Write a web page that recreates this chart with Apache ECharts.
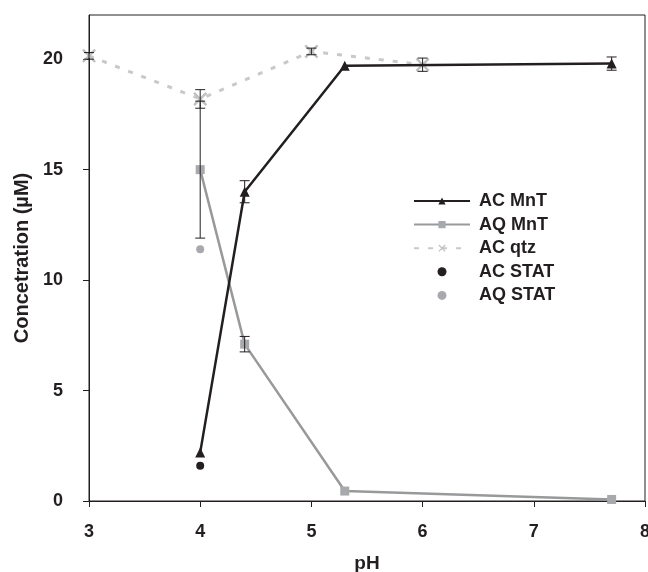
<!DOCTYPE html>
<html>
<head>
<meta charset="utf-8">
<script src="https://cdn.jsdelivr.net/npm/echarts@6/dist/echarts.min.js"></script>
<style>
  html, body { margin: 0; padding: 0; background: #fff; }
  #chart { width: 648px; height: 572px; }
</style>
</head>
<body>
<div id="chart"></div>
<script>
// pH values and concentrations (uM)
var mntPH = [4, 4.4, 5.3, 7.7];
var acMnT = [2.2, 14.0, 19.7, 19.8];
var acMnTErr = [0, 0.5, 0, 0.3];
var aqMnT = [15.0, 7.1, 0.45, 0.07];
var aqMnTErr = [3.1, 0.35, 0, 0];

var qtzPH = [3, 4, 5, 6];
var acQtz = [20.15, 18.2, 20.35, 19.75];
var acQtzErr = [0.15, 0.42, 0.15, 0.3];

var statPH = [4];
var acStat = [1.6];
var aqStat = [11.4];

var xTicks = [3, 4, 5, 6, 7, 8];
var yTicks = [0, 5, 10, 15, 20];

var INK = '#231f20';
var FONT = '"Liberation Sans", Arial, sans-serif';

function pairs(xs, ys) {
  return xs.map(function (x, i) { return [x, ys[i]]; });
}

// rows [x, y, err] for the error bar series, only where there is an error
function errRows(xs, ys, es) {
  var rows = [];
  xs.forEach(function (x, i) {
    if (es[i] > 0) rows.push([x, ys[i], es[i]]);
  });
  return rows;
}

var errData = []
  .concat(errRows(mntPH, acMnT, acMnTErr))
  .concat(errRows(mntPH, aqMnT, aqMnTErr))
  .concat(errRows(qtzPH, acQtz, acQtzErr));

// draws a vertical error bar with caps
function renderErrorBar(params, api) {
  var x = api.value(0);
  var y = api.value(1);
  var e = api.value(2);
  var hi = api.coord([x, y + e]);
  var lo = api.coord([x, y - e]);
  var half = 5;
  var style = { stroke: INK, lineWidth: 1 };
  return {
    type: 'group',
    children: [
      { type: 'line', shape: { x1: hi[0], y1: hi[1], x2: lo[0], y2: lo[1] }, style: style },
      { type: 'line', shape: { x1: hi[0] - half, y1: hi[1], x2: hi[0] + half, y2: hi[1] }, style: style },
      { type: 'line', shape: { x1: lo[0] - half, y1: lo[1], x2: lo[0] + half, y2: lo[1] }, style: style }
    ]
  };
}

// thin "x" marker
var crossSymbol = 'path://M0,1.2 L1.2,0 L10,8.8 L8.8,10 Z M8.8,0 L10,1.2 L1.2,10 L0,8.8 Z';

var chart = echarts.init(document.getElementById('chart'));

var option = {
  animation: false,
  backgroundColor: '#fff',
  textStyle: { fontFamily: FONT },
  grid: {
    left: 89,
    right: 3,
    top: 15,
    bottom: 71,
    outerBoundsMode: 'none',
    containLabel: false,
    show: true,
    borderColor: INK,
    borderWidth: 1
  },
  legend: {
    orient: 'vertical',
    left: 413,
    top: 192,
    padding: 0,
    itemWidth: 56,
    itemHeight: 9,
    itemGap: 5.6,
    data: ['AC MnT', 'AQ MnT', 'AC qtz', 'AC STAT', 'AQ STAT'],
    textStyle: {
      color: INK,
      fontSize: 18,
      fontWeight: 'bold',
      fontFamily: FONT,
      lineHeight: 18,
      padding: [0, 0, 0, 4]
    }
  },
  xAxis: {
    type: 'value',
    min: 3,
    max: 8,
    interval: 1,
    name: 'pH',
    nameLocation: 'middle',
    nameGap: 53,
    nameTextStyle: { color: INK, fontSize: 19, fontWeight: 'bold', fontFamily: FONT },
    axisLine: { lineStyle: { color: INK, width: 1 } },
    axisTick: { show: true, inside: false, length: 6, lineStyle: { color: INK }, customValues: xTicks },
    axisLabel: { color: INK, fontSize: 18, fontWeight: 'bold', margin: 22, customValues: xTicks },
    splitLine: { show: false }
  },
  yAxis: {
    type: 'value',
    min: 0,
    max: 22,
    interval: 5,
    name: 'Concetration (\u00b5M)',
    nameLocation: 'middle',
    nameGap: 55,
    nameTextStyle: { color: INK, fontSize: 20, fontWeight: 'bold', fontFamily: FONT },
    axisLine: { show: true, lineStyle: { color: INK, width: 1 } },
    axisTick: { show: true, inside: false, length: 6, lineStyle: { color: INK }, customValues: yTicks },
    axisLabel: { color: INK, fontSize: 18, fontWeight: 'bold', margin: 26, customValues: yTicks },
    splitLine: { show: false }
  },
  series: [
    {
      name: 'AC qtz',
      type: 'line',
      data: pairs(qtzPH, acQtz),
      symbol: crossSymbol,
      symbolSize: 14,
      lineStyle: { color: '#c8c9ca', width: 3, type: [5, 9] },
      itemStyle: { color: '#bfc0c2' },
      z: 2
    },
    {
      name: 'AQ MnT',
      type: 'line',
      data: pairs(mntPH, aqMnT),
      symbol: 'rect',
      symbolSize: 9,
      lineStyle: { color: '#98999b', width: 2.5 },
      itemStyle: { color: '#a7a9ac' },
      z: 3
    },
    {
      name: 'AC MnT',
      type: 'line',
      data: pairs(mntPH, acMnT),
      symbol: 'triangle',
      symbolSize: 10,
      lineStyle: { color: INK, width: 2.5 },
      itemStyle: { color: INK },
      z: 4
    },
    {
      name: 'AC STAT',
      type: 'scatter',
      data: pairs(statPH, acStat),
      symbol: 'circle',
      symbolSize: 8,
      itemStyle: { color: INK, opacity: 1 },
      z: 4
    },
    {
      name: 'AQ STAT',
      type: 'scatter',
      data: pairs(statPH, aqStat),
      symbol: 'circle',
      symbolSize: 8,
      itemStyle: { color: '#a7a9ac', opacity: 1 },
      z: 4
    },
    {
      name: 'error',
      type: 'custom',
      renderItem: renderErrorBar,
      data: errData,
      encode: { x: 0, y: 1 },
      z: 5,
      silent: true
    }
  ]
};

chart.setOption(option);
</script>
</body>
</html>
